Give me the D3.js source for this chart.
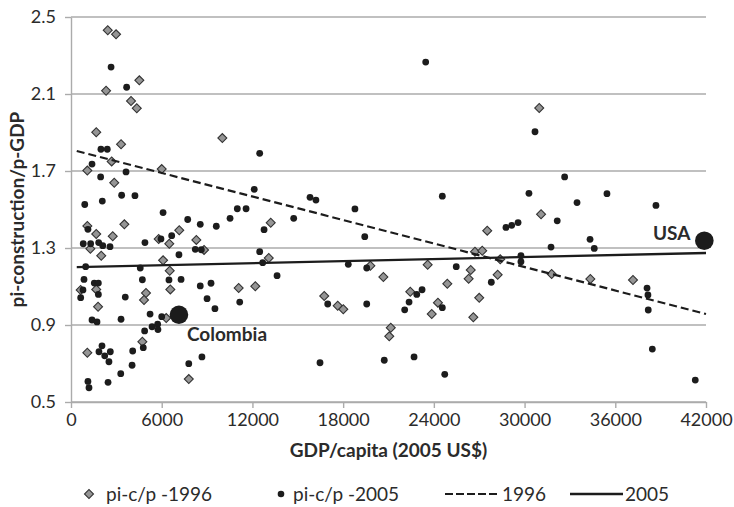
<!DOCTYPE html>
<html>
<head>
<meta charset="utf-8">
<script src="https://cdn.jsdelivr.net/npm/d3@7"></script>
<style>
    html, body { margin: 0; padding: 0; background: #fff; }
    svg { display: block; font-family: Lato, "Open Sans", sans-serif; }
</style>
</head>
<body>
<div id="container"></div>
<script>
// ======================================================================
// ================================================================= DATA
// ======================================================================
// [GDP per capita (2005 US$), pi-construction / p-GDP]
const pic1996 = [
    [2430, 2.431], [2980, 2.410], [4520, 2.171], [2320, 2.117], [3970, 2.064],
    [4350, 2.026], [1670, 1.901], [10010, 1.871], [3310, 1.839], [2690, 1.750],
    [1080, 1.702], [6000, 1.710], [2860, 1.639], [1080, 1.414], [3530, 1.423],
    [1670, 1.373], [2760, 1.361], [1280, 1.296], [2000, 1.260], [5800, 1.347],
    [6500, 1.322], [7160, 1.392], [8290, 1.342], [8800, 1.290], [6090, 1.236],
    [6530, 1.182], [6570, 1.085], [640, 1.082], [1670, 1.085], [1790, 0.995],
    [4960, 1.066], [4830, 1.030], [6300, 0.936], [4720, 0.813], [1080, 0.756],
    [7790, 0.619], [11090, 1.092], [13210, 1.431], [13080, 1.248], [12190, 1.101],
    [19800, 1.208], [20660, 1.149], [16750, 1.051], [17640, 1.000], [18010, 0.982],
    [21150, 0.886], [21050, 0.841], [22440, 1.073], [23590, 1.213], [24890, 1.114],
    [24270, 1.016], [23860, 0.957], [26440, 1.186], [26300, 1.140], [26720, 1.281],
    [26610, 0.940], [27000, 1.041], [30970, 2.027], [31090, 1.475], [27530, 1.390],
    [27200, 1.286], [28390, 1.241], [28220, 1.161], [31790, 1.165], [34350, 1.139],
    [37170, 1.134]
];

const pic2005 = [
    [2650, 2.240], [3680, 2.135], [1980, 1.813], [2400, 1.813], [1390, 1.736],
    [3640, 1.695], [1960, 1.669], [3350, 1.574], [4230, 1.572], [910, 1.526],
    [2070, 1.544], [6090, 1.484], [7720, 1.448], [10520, 1.454], [11000, 1.504],
    [11580, 1.504], [8550, 1.423], [9610, 1.413], [1120, 1.397], [810, 1.322],
    [1300, 1.322], [1830, 1.328], [2100, 1.312], [2580, 1.307], [4890, 1.328],
    [5950, 1.347], [6660, 1.364], [7140, 1.265], [8220, 1.293], [8620, 1.291],
    [970, 1.203], [4580, 1.196], [860, 1.137], [4720, 1.135], [6480, 1.134],
    [7280, 1.137], [1540, 1.118], [1810, 1.118], [790, 1.082], [1810, 1.059],
    [640, 1.042], [3590, 1.045], [8550, 1.103], [9260, 1.117], [9000, 1.037],
    [9520, 0.985], [11160, 1.019], [1390, 0.926], [1720, 0.916], [3310, 0.930],
    [5230, 0.957], [4870, 0.869], [5360, 0.891], [5730, 0.904], [5750, 0.876],
    [6000, 0.943], [2050, 0.792], [1850, 0.761], [2230, 0.740], [2600, 0.761],
    [2510, 0.709], [4080, 0.765], [4780, 0.782], [4040, 0.691], [3290, 0.647],
    [2450, 0.602], [1120, 0.607], [1190, 0.574], [7790, 0.699], [8660, 0.734],
    [23460, 2.266], [12480, 1.792], [12120, 1.605], [15810, 1.563], [16200, 1.549],
    [18780, 1.503], [24560, 1.569], [14730, 1.454], [12770, 1.395], [19430, 1.359],
    [12480, 1.281], [12680, 1.224], [13630, 1.156], [18340, 1.215], [19560, 1.196],
    [25480, 1.203], [16980, 1.009], [19560, 1.009], [22070, 0.979], [22360, 1.019],
    [22870, 1.059], [23220, 1.083], [24560, 0.990], [16470, 0.704], [20720, 0.717],
    [22690, 0.734], [24720, 0.644], [30690, 1.904], [32650, 1.669], [30290, 1.584],
    [35450, 1.582], [33470, 1.536], [38690, 1.521], [29570, 1.432], [32160, 1.441],
    [28770, 1.407], [29150, 1.418], [34330, 1.345], [34610, 1.298], [31750, 1.305],
    [29760, 1.260], [29760, 1.229], [27800, 1.122], [38100, 1.092], [38160, 1.056],
    [38180, 0.978], [38450, 0.775], [41290, 0.614]
];

// linear trend lines (end points)
const trend1996 = [[380, 1.804], [42000, 0.957]];
const trend2005 = [[380, 1.201], [42000, 1.274]];

// highlighted countries
const highlights = [
    {name: "Colombia", gdp: 7140, value: 0.953},
    {name: "USA", gdp: 41890, value: 1.338}
];

const xTicks = [0, 6000, 12000, 18000, 24000, 30000, 36000, 42000];
const yTicks = [0.5, 0.9, 1.3, 1.7, 2.1, 2.5];
const legendLabels = ["pi-c/p -1996", "pi-c/p -2005", "1996", "2005"];

const xTitle = "GDP/capita (2005 US$)";
const yTitle = "pi-construction/p-GDP";

// ======================================================================
// ================================================================ CHART
// ======================================================================
(function(){

    const width = 734;
    const height = 507;
    const margin = {top: 17, right: 28, bottom: 105, left: 71};

    const textColor = "#2b2b2b";
    const gridColor = "#ababab";
    const inkColor  = "#1c1c1c";
    const diamondFill = "#959595";

    const x = d3.scaleLinear([0, 42000], [margin.left, width - margin.right]);
    const y = d3.scaleLinear([0.5, 2.5], [height - margin.bottom, margin.top]);

    const svg = d3.select("#container")
        .append("svg")
        .attr("width", width)
        .attr("height", height);

    // grid lines
    svg.append("g")
        .selectAll("line")
        .data(yTicks)
        .join("line")
        .attr("x1", x(0))
        .attr("x2", x(42000))
        .attr("y1", d => y(d))
        .attr("y2", d => y(d))
        .attr("stroke", gridColor)
        .attr("stroke-width", 1.4);

    // x axis
    const xAxis = svg.append("g")
        .attr("transform", `translate(0,${y(0.5)})`)
        .call(d3.axisBottom(x).tickValues(xTicks).tickFormat(d3.format("d")).tickSize(6).tickSizeOuter(0));

    // y axis
    const yAxis = svg.append("g")
        .attr("transform", `translate(${x(0)},0)`)
        .call(d3.axisLeft(y).tickValues(yTicks).tickFormat(d3.format(".1f")).tickSize(6).tickSizeOuter(0));

    [xAxis, yAxis].forEach(g => {
        g.select(".domain").attr("stroke", gridColor).attr("stroke-width", 1.4);
        g.selectAll(".tick line").attr("stroke", gridColor).attr("stroke-width", 1.4);
        g.selectAll(".tick text")
            .attr("fill", textColor)
            .style("font-size", "18px")
            .style("font-family", "Lato, sans-serif");
    });
    xAxis.selectAll(".tick text").attr("y", 11);
    yAxis.selectAll(".tick text").attr("x", -15);

    // axis titles
    svg.append("text")
        .attr("x", (x(0) + x(42000)) / 2)
        .attr("y", 457)
        .attr("text-anchor", "middle")
        .attr("fill", textColor)
        .style("font-size", "19px")
        .style("font-weight", "bold")
        .text(xTitle);

    svg.append("text")
        .attr("transform", `translate(24,${(y(0.5) + y(2.5)) / 2}) rotate(-90)`)
        .attr("text-anchor", "middle")
        .attr("fill", textColor)
        .style("font-size", "19px")
        .style("font-weight", "bold")
        .text(yTitle);

    // ============================================================ MARKERS
    const diamond = d3.symbol(d3.symbolSquare, 40);

    svg.append("g")
        .selectAll("path")
        .data(pic1996)
        .join("path")
        .attr("d", diamond)
        .attr("transform", d => `translate(${x(d[0])},${y(d[1])}) rotate(45)`)
        .attr("fill", diamondFill)
        .attr("stroke", "#333")
        .attr("stroke-width", 1.1);

    svg.append("g")
        .selectAll("circle")
        .data(pic2005)
        .join("circle")
        .attr("cx", d => x(d[0]))
        .attr("cy", d => y(d[1]))
        .attr("r", 3.4)
        .attr("fill", inkColor);

    // ========================================================= TRENDLINES
    const line = d3.line()
        .x(d => x(d[0]))
        .y(d => y(d[1]));

    svg.append("path")
        .datum(trend1996)
        .attr("d", line)
        .attr("fill", "none")
        .attr("stroke", inkColor)
        .attr("stroke-width", 2.2)
        .attr("stroke-dasharray", "8,4");

    svg.append("path")
        .datum(trend2005)
        .attr("d", line)
        .attr("fill", "none")
        .attr("stroke", inkColor)
        .attr("stroke-width", 2.3);

    // ========================================================= HIGHLIGHTS
    svg.append("g")
        .selectAll("circle")
        .data(highlights)
        .join("circle")
        .attr("cx", d => x(d.gdp))
        .attr("cy", d => y(d.value))
        .attr("r", 9.3)
        .attr("fill", inkColor);

    const col = highlights[0];
    const usa = highlights[1];

    svg.append("text")
        .attr("x", x(col.gdp) + 8)
        .attr("y", y(col.value) + 26)
        .attr("fill", textColor)
        .style("font-size", "19px")
        .style("font-weight", "bold")
        .text(col.name);

    svg.append("text")
        .attr("x", x(usa.gdp) - 14)
        .attr("y", y(usa.value) - 1)
        .attr("text-anchor", "end")
        .attr("fill", textColor)
        .style("font-size", "19px")
        .style("font-weight", "bold")
        .text(usa.name);

    // ============================================================= LEGEND
    const legendY = 494;
    const legend = svg.append("g")
        .style("font-size", "19px")
        .attr("fill", textColor);

    legend.append("path")
        .attr("d", diamond)
        .attr("transform", `translate(89,${legendY}) rotate(45)`)
        .attr("fill", diamondFill)
        .attr("stroke", "#333")
        .attr("stroke-width", 1.1);

    legend.append("circle")
        .attr("cx", 281)
        .attr("cy", legendY)
        .attr("r", 3.3)
        .attr("fill", inkColor);

    legend.append("line")
        .attr("x1", 445).attr("x2", 500)
        .attr("y1", legendY).attr("y2", legendY)
        .attr("stroke", inkColor)
        .attr("stroke-width", 2.2)
        .attr("stroke-dasharray", "8,3");

    legend.append("line")
        .attr("x1", 570).attr("x2", 623)
        .attr("y1", legendY).attr("y2", legendY)
        .attr("stroke", inkColor)
        .attr("stroke-width", 2.3);

    const legendX = [106, 293, 502, 625];
    legend.selectAll("text")
        .data(legendLabels)
        .join("text")
        .attr("x", (d, i) => legendX[i])
        .attr("y", legendY + 7)
        .text(d => d);

})();
</script>
</body>
</html>
